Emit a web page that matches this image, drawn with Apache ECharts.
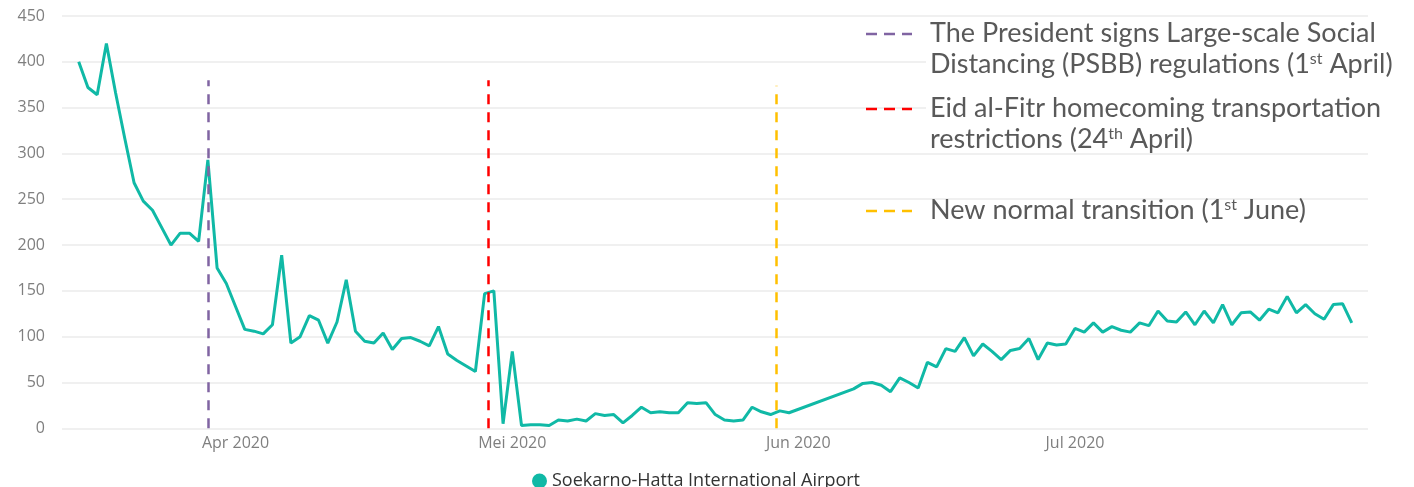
<!DOCTYPE html>
<html>
<head>
<meta charset="utf-8">
<script src="https://cdn.jsdelivr.net/npm/echarts@6/dist/echarts.min.js"></script>
<style>
  html, body { margin: 0; padding: 0; background: #ffffff; }
  #chart { width: 1414px; height: 487px; }
</style>
</head>
<body>
<div id="chart"></div>
<script>
// ---------- data ----------
const seriesName = 'Soekarno-Hatta International Airport';

const dates = [
  '2020-03-15','2020-03-16','2020-03-17','2020-03-18','2020-03-19','2020-03-20','2020-03-21','2020-03-22','2020-03-23','2020-03-24',
  '2020-03-25','2020-03-26','2020-03-27','2020-03-28','2020-03-29','2020-03-30','2020-03-31',
  '2020-04-01','2020-04-02','2020-04-03','2020-04-04','2020-04-05','2020-04-06','2020-04-07','2020-04-08','2020-04-09','2020-04-10',
  '2020-04-11','2020-04-12','2020-04-13','2020-04-14','2020-04-15','2020-04-16','2020-04-17','2020-04-18','2020-04-19','2020-04-20',
  '2020-04-21','2020-04-22','2020-04-23','2020-04-24','2020-04-25','2020-04-26','2020-04-27','2020-04-28','2020-04-29','2020-04-30',
  '2020-05-01','2020-05-02','2020-05-03','2020-05-04','2020-05-05','2020-05-06','2020-05-07','2020-05-08','2020-05-09','2020-05-10',
  '2020-05-11','2020-05-12','2020-05-13','2020-05-14','2020-05-15','2020-05-16','2020-05-17','2020-05-18','2020-05-19','2020-05-20',
  '2020-05-21','2020-05-22','2020-05-23','2020-05-24','2020-05-25','2020-05-26','2020-05-27','2020-05-28','2020-05-29','2020-05-30',
  '2020-05-31',
  '2020-06-07','2020-06-08','2020-06-09','2020-06-10','2020-06-11','2020-06-12','2020-06-13','2020-06-14','2020-06-15','2020-06-16',
  '2020-06-17','2020-06-18','2020-06-19','2020-06-20','2020-06-21','2020-06-22','2020-06-23','2020-06-24','2020-06-25','2020-06-26',
  '2020-06-27','2020-06-28','2020-06-29','2020-06-30',
  '2020-07-01','2020-07-02','2020-07-03','2020-07-04','2020-07-05','2020-07-06','2020-07-07','2020-07-08','2020-07-09','2020-07-10',
  '2020-07-11','2020-07-12','2020-07-13','2020-07-14','2020-07-15','2020-07-16','2020-07-17','2020-07-18','2020-07-19','2020-07-20',
  '2020-07-21','2020-07-22','2020-07-23','2020-07-24','2020-07-25','2020-07-26','2020-07-27','2020-07-28','2020-07-29','2020-07-30',
  '2020-07-31'
];

const passengers = [
  400,372,364,420,366,316,268,248,238,219,200,213,213,204,293,175,158,
  133,108,106,103,113,189,93,100,123,118,93,116,162,106,95,93,104,86,98,99,95,90,111,81,74,68,62,147,150,5,
  84,3,4,4,3,9,8,10,8,16,14,15,6,14,23,17,18,17,17,28,27,28,15,9,8,9,23,18,15,19,17,
  43,49,50,47,40,55,50,44,72,67,87,84,99,79,92,84,75,85,87,98,75,93,91,92,
  109,105,115,105,111,107,105,115,112,128,117,116,127,113,128,115,135,113,126,127,118,130,126,144,126,135,125,119,135,136,115
];

const monthTicks  = ['2020-04', '2020-05', '2020-06', '2020-07'];
const monthLabels = ['Apr 2020', 'Mei 2020', 'Jun 2020', 'Jul 2020'];

const yTicks = [0, 50, 100, 150, 200, 250, 300, 350, 400, 450];

const xRange = ['2020-03-13 04:30', '2020-08-01 18:15'];

const eventDates = ['2020-03-29 00:00', '2020-04-28 10:00', '2020-05-29 16:00'];
const eventTops  = [380, 380, 374];
const eventLabels = [
  'The President signs Large-scale Social\nDistancing (PSBB) regulations (1{sup|st} April)',
  'Eid al-Fitr homecoming transportation\nrestrictions (24{sup|th} April)',
  'New normal transition (1{sup|st} June)'
];

// ---------- styling ----------
const eventColors = ['#8064A2', '#FF0000', '#FFC000'];
const annoDashY = [34, 109, 211];
const annoBoxes = [[19, 80], [94, 152], null];
const lineColor = '#10B9A6';
const DAY = 86400000;

function ts(s) {
  const m = s.match(/(\d+)-(\d+)-(\d+)(?:[ T](\d+):(\d+))?/);
  return new Date(+m[1], +m[2] - 1, +m[3], m[4] ? +m[4] : 0, m[5] ? +m[5] : 0).getTime();
}
function pad(n) { return (n < 10 ? '0' : '') + n; }

const labelMap = {};
monthTicks.forEach((k, i) => { labelMap[k] = monthLabels[i]; });

const seriesData = dates.map((d, i) => [ts(d), passengers[i]]);

const markLineData = eventDates.map((d, i) => [
  { coord: [ts(d), 0], lineStyle: { color: eventColors[i], type: [10, 8], width: 2.5 } },
  { coord: [ts(d), eventTops[i]] }
]);

const graphics = [];
eventLabels.forEach((txt, i) => {
  if (annoBoxes[i]) {
    graphics.push({
      type: 'rect',
      silent: true,
      z: 10,
      shape: { x: 926, y: annoBoxes[i][0], width: 488, height: annoBoxes[i][1] - annoBoxes[i][0] },
      style: { fill: '#ffffff' }
    });
  }
  graphics.push({
    type: 'line',
    silent: true,
    z: 11,
    shape: { x1: 866, y1: annoDashY[i], x2: 912, y2: annoDashY[i] },
    style: { stroke: eventColors[i], lineWidth: 2.5, lineDash: [11, 7] }
  });
  graphics.push({
    type: 'text',
    silent: true,
    z: 11,
    x: 930,
    y: annoDashY[i] - 16,
    style: {
      text: txt,
      fontFamily: 'Lato',
      fontSize: 27,
      lineHeight: 31,
      fill: '#595959',
      verticalAlign: 'top',
      rich: {
        sup: { fontFamily: 'Lato', fontSize: 16, lineHeight: 31, fill: '#595959', verticalAlign: 'top', padding: [2, 0, 0, 0] }
      }
    }
  });
});

const chart = echarts.init(document.getElementById('chart'), null, { renderer: 'canvas' });
chart.setOption({
  animation: false,
  backgroundColor: '#ffffff',
  grid: { left: 62, right: 46, top: 16, bottom: 58.7, containLabel: false },
  xAxis: {
    type: 'time',
    min: ts(xRange[0]),
    max: ts(xRange[1]),
    minInterval: 28 * DAY,
    maxInterval: 31 * DAY,
    axisLine: { show: false },
    axisTick: { show: false },
    splitLine: { show: false },
    axisLabel: {
      formatter: function (v) {
        const d = new Date(v);
        if (d.getDate() !== 1) return '';
        return labelMap[d.getFullYear() + '-' + pad(d.getMonth() + 1)] || '';
      },
      color: '#7f7f7f',
      fontFamily: 'Open Sans',
      fontSize: 16,
      margin: 7,
      hideOverlap: false,
      showMinLabel: false,
      showMaxLabel: false
    }
  },
  yAxis: {
    type: 'value',
    min: yTicks[0],
    max: yTicks[yTicks.length - 1],
    interval: 50,
    axisLine: { show: false },
    axisTick: { show: false },
    splitLine: { show: true, lineStyle: { color: '#ebebeb', width: 1.5 } },
    axisLabel: { color: '#7f7f7f', fontFamily: 'Open Sans', fontSize: 16, margin: 17 }
  },
  legend: {
    data: [{ name: seriesName, icon: 'circle' }],
    left: 532,
    top: 472,
    padding: 0,
    itemWidth: 15,
    itemHeight: 15,
    itemGap: 10,
    textStyle: { color: '#333333', fontFamily: 'Open Sans', fontSize: 18 }
  },
  graphic: graphics,
  series: [{
    name: seriesName,
    type: 'line',
    data: seriesData,
    showSymbol: false,
    symbol: 'circle',
    color: lineColor,
    lineStyle: { color: lineColor, width: 3 },
    markLine: {
      silent: true,
      symbol: ['none', 'none'],
      label: { show: false },
      data: markLineData
    }
  }]
});
</script>
</body>
</html>
